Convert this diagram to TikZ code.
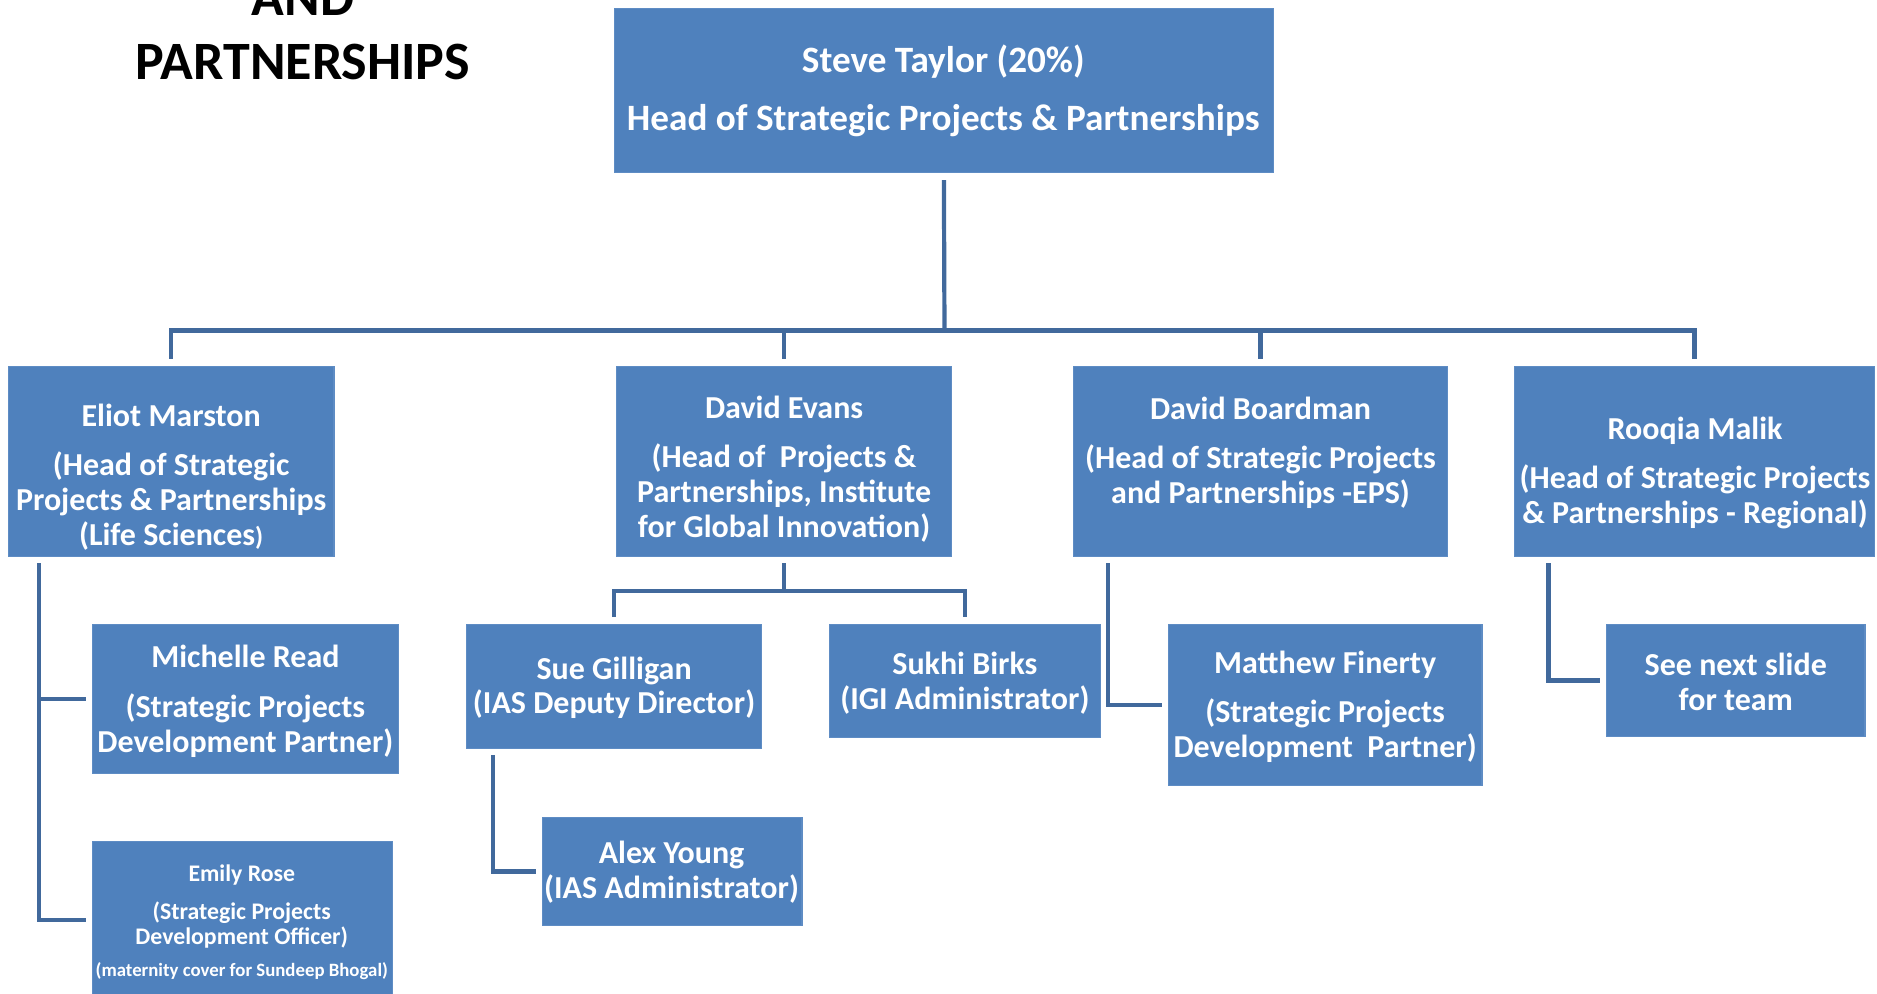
\documentclass[tikz,border=0pt]{standalone}
\usepackage{fontspec}
\setmainfont{Carlito}[BoldFont=Carlito Bold]
\newfontface\cbf{Carlito Bold}
\usetikzlibrary{calc}
\definecolor{boxblue}{HTML}{4F81BD}
\definecolor{boxedge}{HTML}{5E8CC4}
\definecolor{linkblue}{HTML}{41699C}
\newcommand\bx[5]{\node[box, minimum width={(#4-#2)*0.5985pt}, minimum height={(#5-#3)*0.5985pt}] (#1) at ({(#2+#4)/2},{(#3+#5)/2}) {};}
\begin{document}
\begin{tikzpicture}[x=0.5985pt,y=-0.5985pt,
  box/.style={fill=boxblue, draw=boxedge, line width=0.6pt, inner sep=0pt},
  txt/.style={text=white, align=center, inner sep=0pt, font=\cbf\fontsize{16}{17.4}\selectfont},
  toptxt/.style={txt, font=\cbf\fontsize{18.6}{28.7}\selectfont},
  smtxt/.style={txt, font=\cbf\fontsize{11.9}{12.6}\selectfont},
  tinytxt/.style={txt, font=\cbf\fontsize{9.4}{10}\selectfont},
  link/.style={draw=linkblue, line width=2.1pt},
  ttl/.style={text=black, inner sep=0pt, font=\cbf\fontsize{27}{32}\selectfont}]
\useasboundingbox (0,0) rectangle (1568,830);
% title
\node[ttl] (t1) at (253,-2) {AND};
\node[ttl] (t2) at (253,52) {PARTNERSHIPS};
% boxes
\bx{top}{513}{7}{1064}{144}
\bx{eliot}{7}{306}{279}{465}
\bx{devans}{515}{306}{795}{465}
\bx{board}{897}{306}{1209}{465}
\bx{rooqia}{1265}{306}{1566}{465}
\bx{michelle}{77}{522}{333}{646}
\bx{emily}{77}{703}{328}{834}
\bx{sue}{390}{522}{636}{625}
\bx{sukhi}{693}{522}{919}{616}
\bx{alex}{453}{683}{670}{773}
\bx{matthew}{976}{522}{1238}{656}
\bx{seenext}{1342}{522}{1558}{615}
% texts
\node[toptxt] (top-t) at (788,76) {Steve Taylor (20\%)\\Head of Strategic Projects \& Partnerships};
\node[txt] (eliot-t) at (143,398.5) {Eliot Marston\\[7.2pt](Head of Strategic\\Projects \& Partnerships\\(Life Sciences{\fontsize{13}{17.4}\selectfont)}};
\node[txt] (devans-t) at (655,392) {David Evans\\[7.2pt](Head of\ \ Projects \&\\Partnerships, Institute\\for Global Innovation)};
\node[txt] (board-t) at (1053,378) {David Boardman\\[7.2pt](Head of Strategic Projects\\and Partnerships -EPS)};
\node[txt] (rooqia-t) at (1416,395) {Rooqia Malik\\[7.2pt](Head of Strategic Projects\\\& Partnerships - Regional)};
\node[txt] (michelle-t) at (205,585.5) {Michelle Read\\[7.8pt](Strategic Projects\\Development Partner)};
\node[smtxt] (emily-name) at (202,731) {Emily Rose};
\node[smtxt] (emily-role) at (202,772.5) {(Strategic Projects\\Development Officer)};
\node[tinytxt] (emily-note) at (202,811) {(maternity cover for Sundeep Bhogal)};
\node[txt] (sue-t) at (513,574.5) {Sue Gilligan\\(IAS Deputy Director)};
\node[txt] (sukhi-t) at (806,570.5) {Sukhi Birks\\(IGI Administrator)};
\node[txt] (alex-t) at (561,728.5) {Alex Young\\(IAS Administrator)};
\node[txt] (matthew-t) at (1107,590) {Matthew Finerty\\[7.2pt](Strategic Projects\\Development\ \ Partner)};
\node[txt] (seenext-t) at (1450,569.5) {See next slide\\for team};
% connectors
\coordinate (bus) at (789,276);
\draw[link] (top.south) ++(0,6) -- (bus);
\draw[link] ([yshift=3.6pt]eliot.north) |- (bus) -| ([yshift=3.6pt]rooqia.north);
\draw[link] ([yshift=3.6pt]devans.north) -- (devans.north |- bus);
\draw[link] ([yshift=3.6pt]board.north) -- (board.north |- bus);
% Eliot branch
\coordinate (etrunk) at ($(eliot.south west)+(26,5)$);
\draw[link] (etrunk) |- ([xshift=-3pt]emily.west);
\draw[link] (etrunk |- michelle.west) -- ([xshift=-3pt]michelle.west);
% David Evans branch
\coordinate (dbus) at ($(devans.south)+(0,28)$);
\draw[link] (devans.south) ++(0,5) -- (dbus);
\draw[link] ([yshift=3.6pt]sue.north) |- (dbus) -| ([yshift=3.6pt]sukhi.north);
% Sue branch
\coordinate (strunk) at ($(sue.south west)+(22,5)$);
\draw[link] (strunk) |- ([xshift=-3pt]alex.west);
% Boardman branch
\coordinate (btrunk) at ($(board.south west)+(29,5)$);
\draw[link] (btrunk) |- ([xshift=-3pt]matthew.west);
% Rooqia branch
\coordinate (rtrunk) at ($(rooqia.south west)+(29,5)$);
\draw[link] (rtrunk) |- ([xshift=-3pt]seenext.west);
\end{tikzpicture}
\end{document}
